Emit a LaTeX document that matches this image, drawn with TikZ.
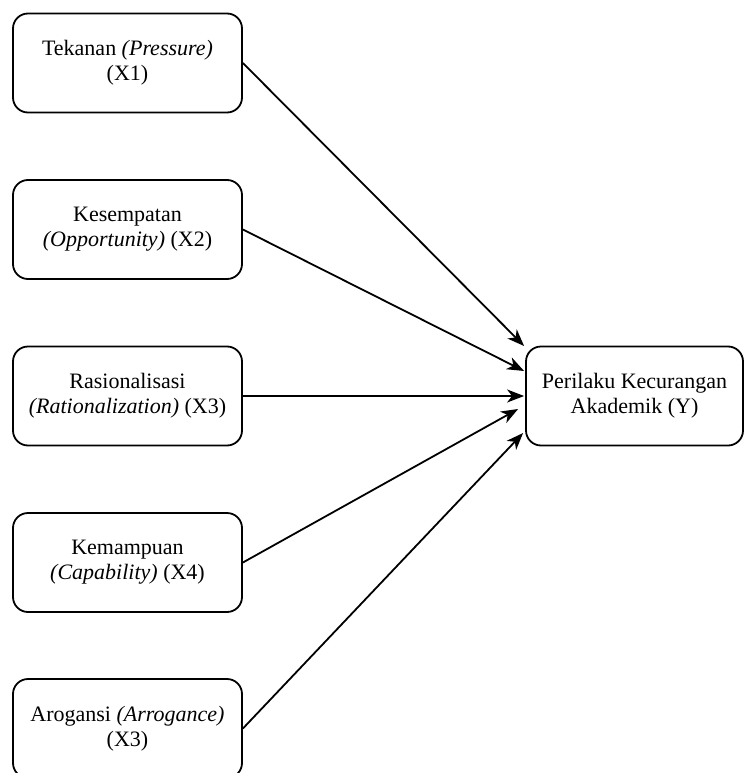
\documentclass[tikz,border=0pt]{standalone}
\usepackage{fontspec}
\setmainfont{Liberation Serif}
\usetikzlibrary{arrows.meta,calc}
\begin{document}
\begin{tikzpicture}[x=1pt,y=1pt,
  box/.style={draw=black, line width=1.8pt, rounded corners=15pt, minimum height=99pt,
    align=center, inner sep=2pt, font=\fontsize{22}{25}\selectfont},
  lbox/.style={box, minimum width=229pt},
  conn/.style={line width=1.8pt, -{Stealth[length=17pt,width=13pt,inset=5pt]}}]
\useasboundingbox (0,0) rectangle (744,-773);
\node[lbox] (x1) at (127.5,-63) {Tekanan \textit{(Pressure)}\\(X1)};
\node[lbox] (x2) at (127.5,-229.5) {Kesempatan\\\textit{(Opportunity)} (X2)};
\node[lbox] (x3) at (127.5,-396) {Rasionalisasi\\\textit{(Rationalization)} (X3)};
\node[lbox] (x4) at (127.5,-562.5) {Kemampuan\\\textit{(Capability)} (X4)};
\node[lbox] (x5) at (127.5,-728.5) {Arogansi \textit{(Arrogance)}\\(X3)};
\node[box, minimum width=217pt] (y) at (634.5,-396) {Perilaku Kecurangan\\Akademik (Y)};
\draw[conn] (x1.east) -- ($(y.west)+(-1,50)$);
\draw[conn] (x2.east) -- ($(y.west)+(-1,25)$);
\draw[conn] (x3.east) -- ($(y.west)+(-1,0)$);
\draw[conn] (x4.east) -- ($(y.west)+(-7,-13)$);
\draw[conn] (x5.east) -- ($(y.west)+(-2,-37)$);
\end{tikzpicture}
\end{document}
